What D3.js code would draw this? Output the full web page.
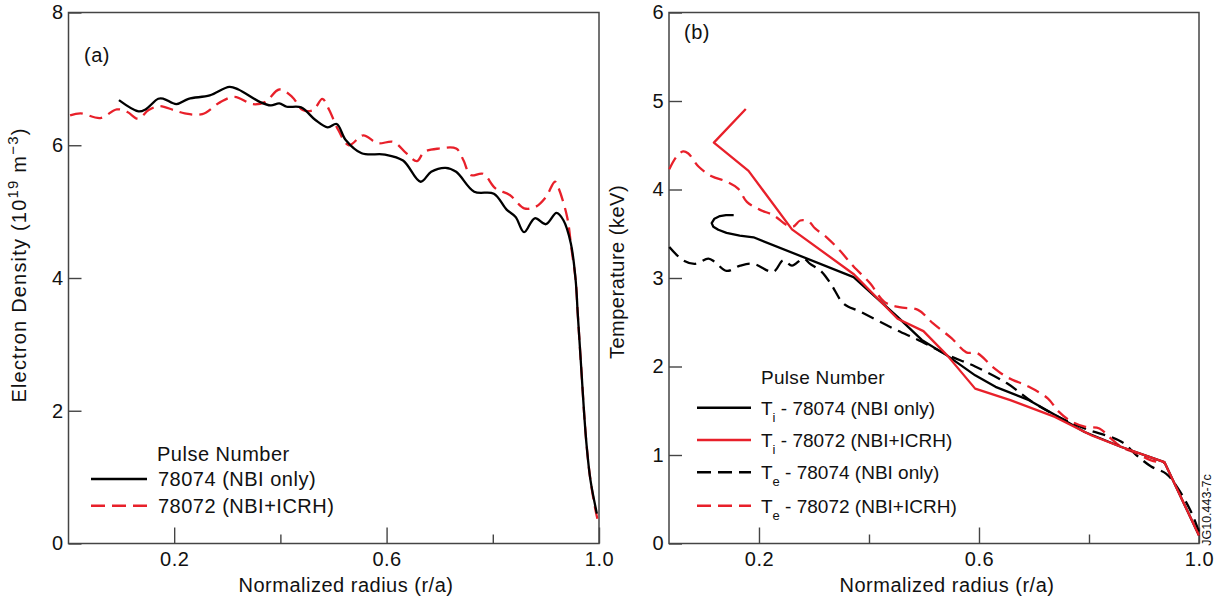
<!DOCTYPE html>
<html>
<head>
<meta charset="utf-8">
<script src="https://cdn.jsdelivr.net/npm/d3@7"></script>
<style>
  body { margin: 0; background: #fff; }
  svg text { font-family: "Liberation Sans", Arial, sans-serif; fill: #111; letter-spacing: 0.5px; }
</style>
</head>
<body>
<div id="chart"></div>
<script>
// (a) electron density, [r/a, 10^19 m^-3]
var neNbiOnly = [
  [0.096, 6.68], [0.133, 6.51], [0.146, 6.54], [0.170, 6.70], [0.180, 6.70], [0.204, 6.62],
  [0.227, 6.70], [0.267, 6.75], [0.304, 6.88], [0.321, 6.84], [0.362, 6.65], [0.382, 6.60],
  [0.398, 6.63], [0.412, 6.58], [0.439, 6.57], [0.466, 6.38], [0.489, 6.27], [0.506, 6.32],
  [0.523, 6.08], [0.553, 5.88], [0.597, 5.86], [0.631, 5.77], [0.664, 5.45], [0.684, 5.60],
  [0.711, 5.66], [0.731, 5.60], [0.765, 5.30], [0.802, 5.27], [0.826, 5.03], [0.843, 4.92],
  [0.859, 4.69], [0.879, 4.90], [0.900, 4.81], [0.920, 4.98], [0.933, 4.87], [0.947, 4.52],
  [0.956, 3.97], [0.960, 3.46], [0.964, 2.96], [0.968, 2.46], [0.972, 1.96], [0.977, 1.45],
  [0.984, 0.95], [0.996, 0.45]
];
var neNbiIcrh = [
  [0.004, 6.45], [0.024, 6.48], [0.061, 6.41], [0.092, 6.54], [0.112, 6.50], [0.132, 6.40],
  [0.152, 6.53], [0.172, 6.59], [0.199, 6.53], [0.220, 6.48], [0.253, 6.47], [0.287, 6.65],
  [0.314, 6.73], [0.347, 6.62], [0.371, 6.65], [0.398, 6.84], [0.422, 6.73], [0.442, 6.53],
  [0.462, 6.53], [0.479, 6.70], [0.492, 6.53], [0.509, 6.23], [0.529, 6.00], [0.556, 6.15],
  [0.583, 6.03], [0.613, 6.05], [0.637, 5.88], [0.657, 5.76], [0.671, 5.90], [0.698, 5.95],
  [0.731, 5.95], [0.745, 5.77], [0.758, 5.55], [0.782, 5.57], [0.805, 5.35], [0.832, 5.25],
  [0.859, 5.05], [0.880, 5.07], [0.900, 5.22], [0.917, 5.45], [0.923, 5.37], [0.940, 4.92],
  [0.948, 4.45], [0.956, 3.97], [0.960, 3.46], [0.964, 2.96], [0.968, 2.46], [0.972, 1.96],
  [0.977, 1.45], [0.984, 0.95], [0.994, 0.48], [1.000, 0.27]
];

// (b) temperatures, [r/a, keV]
var tiNbiOnly = [
  [0.154, 3.71], [0.140, 3.71], [0.129, 3.70], [0.119, 3.67], [0.114, 3.62], [0.117, 3.58],
  [0.126, 3.545], [0.141, 3.51], [0.165, 3.48], [0.190, 3.46], [0.372, 3.01], [0.452, 2.56],
  [0.496, 2.30], [0.543, 2.12], [0.593, 1.90], [0.630, 1.77], [0.691, 1.62], [0.745, 1.43],
  [0.792, 1.26], [0.859, 1.09], [0.937, 0.92], [1.000, 0.09]
];
var tiNbiIcrh = [
  [0.176, 4.91], [0.118, 4.53], [0.181, 4.21], [0.260, 3.55], [0.373, 3.04], [0.452, 2.54],
  [0.499, 2.40], [0.543, 2.12], [0.593, 1.75], [0.657, 1.62], [0.738, 1.43], [0.805, 1.22],
  [0.859, 1.09], [0.937, 0.92], [1.000, 0.09]
];
var teNbiOnly = [
  [0.037, 3.35], [0.062, 3.20], [0.084, 3.16], [0.108, 3.22], [0.120, 3.18], [0.141, 3.08],
  [0.166, 3.14], [0.190, 3.16], [0.226, 3.07], [0.244, 3.20], [0.260, 3.14], [0.281, 3.22],
  [0.293, 3.16], [0.314, 3.07], [0.332, 2.92], [0.354, 2.71], [0.384, 2.62], [0.444, 2.43],
  [0.496, 2.28], [0.543, 2.13], [0.593, 2.00], [0.651, 1.81], [0.697, 1.60], [0.745, 1.43],
  [0.792, 1.30], [0.859, 1.15], [0.886, 1.00], [0.913, 0.87], [0.940, 0.79], [0.960, 0.64],
  [0.987, 0.34], [1.000, 0.13]
];
var teNbiIcrh = [
  [0.037, 4.23], [0.050, 4.37], [0.062, 4.43], [0.071, 4.41], [0.090, 4.26], [0.114, 4.15],
  [0.141, 4.09], [0.162, 4.01], [0.178, 3.86], [0.202, 3.77], [0.226, 3.71], [0.250, 3.60],
  [0.262, 3.58], [0.275, 3.65], [0.290, 3.64], [0.302, 3.56], [0.323, 3.46], [0.347, 3.31],
  [0.372, 3.13], [0.402, 2.94], [0.428, 2.73], [0.455, 2.67], [0.489, 2.64], [0.516, 2.49],
  [0.550, 2.32], [0.577, 2.16], [0.597, 2.15], [0.624, 2.00], [0.651, 1.88], [0.691, 1.77],
  [0.725, 1.64], [0.745, 1.49], [0.765, 1.39], [0.792, 1.32], [0.819, 1.30], [0.839, 1.19],
  [0.859, 1.09], [0.886, 1.02], [0.913, 0.94], [0.937, 0.91]
];

var xTicksMajor = [0.2, 0.6, 1.0];
var xTicksMinor = [0.4, 0.8];
var neTicks = [0, 2, 4, 6, 8];
var tTicks = [0, 1, 2, 3, 4, 5, 6];

var legendA = ["78074 (NBI only)", "78072 (NBI+ICRH)"];
var legendB = [
  { sub: "i", label: " - 78074 (NBI only)" },
  { sub: "i", label: " - 78072 (NBI+ICRH)" },
  { sub: "e", label: " - 78074 (NBI only)" },
  { sub: "e", label: " - 78072 (NBI+ICRH)" }
];

var RED = "#e8202a";
var BLACK = "#000";
var DASH = "13,7";
var FONT = "20px";

var svg = d3.select("#chart").append("svg")
  .attr("width", 1224)
  .attr("height", 606);

function drawPanel(opts) {
  var x = d3.scaleLinear().domain(opts.xDomain).range([opts.left, opts.right]);
  var y = d3.scaleLinear().domain(opts.yDomain).range([opts.bottom, opts.top]);
  var g = svg.append("g");

  g.append("g")
    .attr("transform", "translate(0," + opts.bottom + ")")
    .call(d3.axisBottom(x).tickValues(xTicksMajor).tickSize(-16).tickPadding(8).tickFormat(d3.format(".1f")))
    .call(function(a) { a.select(".domain").remove(); });
  g.append("g")
    .attr("transform", "translate(0," + opts.bottom + ")")
    .call(d3.axisBottom(x).tickValues(xTicksMinor).tickSize(-9).tickFormat(""))
    .call(function(a) { a.select(".domain").remove(); });
  g.append("g")
    .attr("transform", "translate(" + opts.left + ",0)")
    .call(d3.axisLeft(y).tickValues(opts.yTicks).tickSize(-13).tickPadding(5).tickFormat(d3.format("d")))
    .call(function(a) { a.select(".domain").remove(); });

  g.selectAll(".tick line").attr("stroke", "#444").attr("stroke-width", 1.4);
  g.selectAll(".tick text").style("font-size", FONT).attr("fill", "#111");

  g.append("rect")
    .attr("x", opts.left).attr("y", opts.top)
    .attr("width", opts.right - opts.left).attr("height", opts.bottom - opts.top)
    .attr("fill", "none").attr("stroke", "#444").attr("stroke-width", 1.5);

  opts.series.forEach(function(s) {
    var line = d3.line()
      .x(function(d) { return x(d[0]); })
      .y(function(d) { return y(d[1]); })
      .curve(s.curve || d3.curveCatmullRom.alpha(0.5));
    g.append("path")
      .datum(s.data)
      .attr("d", line)
      .attr("fill", "none")
      .attr("stroke", s.color)
      .attr("stroke-width", 2.3)
      .attr("stroke-linejoin", "round")
      .attr("stroke-dasharray", s.dashed ? DASH : null);
  });

  g.append("text")
    .attr("x", opts.tagX).attr("y", opts.tagY)
    .style("font-size", FONT)
    .text(opts.tag);

  g.append("text")
    .attr("x", opts.xTitleX).attr("y", 592)
    .attr("text-anchor", "middle")
    .style("font-size", FONT)
    .text("Normalized radius (r/a)");

  return g;
}

drawPanel({
  left: 68.5, right: 599, top: 12.5, bottom: 543.5,
  xDomain: [0.001, 1], yDomain: [0, 8], yTicks: neTicks,
  tag: "(a)", tagX: 84, tagY: 62, xTitleX: 346,
  series: [
    { data: neNbiIcrh, color: RED, dashed: true },
    { data: neNbiOnly, color: BLACK, dashed: false }
  ]
});

drawPanel({
  left: 669, right: 1199, top: 12.5, bottom: 543.5,
  xDomain: [0.0364, 1], yDomain: [0, 6], yTicks: tTicks,
  tag: "(b)", tagX: 684, tagY: 39, xTitleX: 947,
  series: [
    { data: teNbiOnly, color: BLACK, dashed: true },
    { data: teNbiIcrh, color: RED, dashed: true },
    { data: tiNbiOnly, color: BLACK, dashed: false, curve: d3.curveLinear },
    { data: tiNbiIcrh, color: RED, dashed: false, curve: d3.curveLinear }
  ]
});

// y titles
var yTitleA = svg.append("text")
  .attr("transform", "translate(26,265) rotate(-90)")
  .attr("text-anchor", "middle")
  .style("font-size", FONT)
  .style("letter-spacing", "1.2px");
yTitleA.append("tspan").text("Electron Density (10");
yTitleA.append("tspan").attr("dy", -8).style("font-size", "15px").text("19");
yTitleA.append("tspan").attr("dy", 8).text(" m");
yTitleA.append("tspan").attr("dy", -8).style("font-size", "15px").text("\u22123");
yTitleA.append("tspan").attr("dy", 8).text(")");

svg.append("text")
  .attr("transform", "translate(624,272) rotate(-90)")
  .attr("text-anchor", "middle")
  .style("font-size", FONT)
  .text("Temperature (keV)");

// legend (a)
svg.append("text").attr("x", 157).attr("y", 461).style("font-size", FONT).text("Pulse Number");
legendA.forEach(function(label, i) {
  var yy = [479, 505.7][i];
  svg.append("line")
    .attr("x1", 91).attr("x2", 147).attr("y1", yy).attr("y2", yy)
    .attr("stroke", i === 0 ? BLACK : RED).attr("stroke-width", 2.5)
    .attr("stroke-dasharray", i === 0 ? null : "14,7");
  svg.append("text").attr("x", 158).attr("y", yy + 7).style("font-size", FONT).text(label);
});

// legend (b)
svg.append("text").attr("x", 761).attr("y", 384)
  .style("font-size", "19px").style("letter-spacing", "0.3px").text("Pulse Number");
legendB.forEach(function(d, i) {
  var yy = [407.7, 440, 472.3, 505.7][i];
  svg.append("line")
    .attr("x1", 697).attr("x2", 751).attr("y1", yy).attr("y2", yy)
    .attr("stroke", i % 2 === 0 ? BLACK : RED).attr("stroke-width", 2.5)
    .attr("stroke-dasharray", i < 2 ? null : "14,7");
  var t = svg.append("text").attr("x", 761).attr("y", yy + 7)
    .style("font-size", "19px").style("letter-spacing", "0px");
  t.append("tspan").text("T");
  t.append("tspan").attr("dy", 7).style("font-size", "13px").text(d.sub);
  t.append("tspan").attr("dy", -7).text(d.label);
});

svg.append("text")
  .attr("transform", "translate(1211,510) rotate(-90)")
  .attr("text-anchor", "middle")
  .style("font-size", "12.5px")
  .style("letter-spacing", "0px")
  .text("JG10.443-7c");
</script>
</body>
</html>
